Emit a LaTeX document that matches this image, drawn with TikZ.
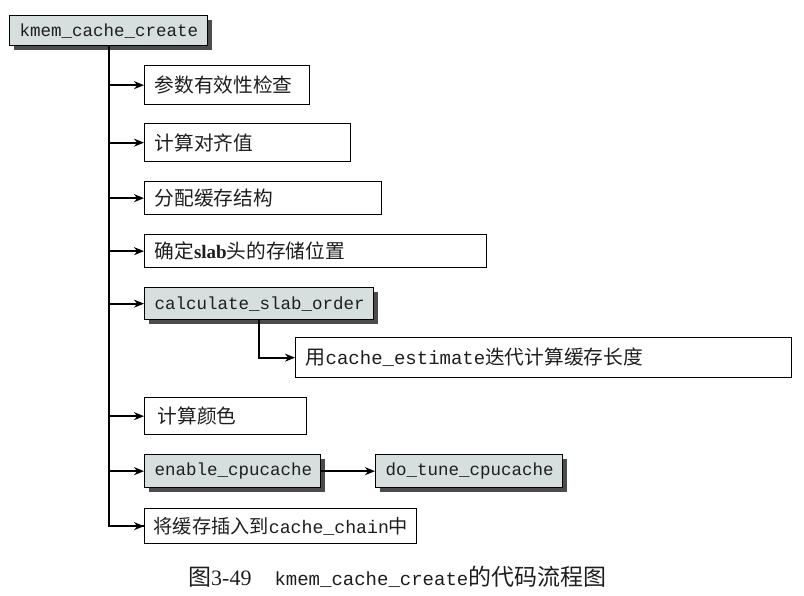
\documentclass[tikz,border=0pt]{standalone}
\usepackage{fontspec}
\setmainfont{Liberation Serif}
\setmonofont{Liberation Mono}
\newfontfamily\cjk{Noto Sans CJK SC}
\usetikzlibrary{arrows.meta,shadows}
\definecolor{boxfill}{RGB}{214,222,222}
\definecolor{txt}{RGB}{30,30,30}
\newcommand\mymono[1]{{\ttfamily\fontsize{17.5}{20}\selectfont #1}}
\newcommand\myzh[1]{{\cjk\fontsize{19.7}{22}\selectfont #1}}
\tikzset{
  box/.style={draw=black, line width=1.3pt, fill=white, anchor=north west,
    inner xsep=10pt, inner ysep=0pt, align=left, text=txt},
  gbox/.style={box, fill=boxfill,
    drop shadow={shadow xshift=4.5pt, shadow yshift=-4.5pt, fill=black!70, opacity=1}},
  arr/.style={line width=1.8pt, -{Stealth[length=10pt,width=8pt]}},
  trunk/.style={line width=1.8pt}
}
\begin{document}
\begin{tikzpicture}[x=1pt,y=-1pt]
\useasboundingbox (0,0) rectangle (804,595);
\node[gbox, minimum width=198pt, minimum height=30pt, text width=178pt] (k) at (9,15) {\mymono{kmem\_cache\_create}};
\node[box, minimum width=165pt, minimum height=39pt, text width=145pt] (b1) at (144,65) {\myzh{参数有效性检查}};
\node[box, minimum width=206pt, minimum height=38pt, text width=186pt] (b2) at (144,123) {\myzh{计算对齐值}};
\node[box, minimum width=237pt, minimum height=33pt, text width=217pt] (b3) at (144,181) {\myzh{分配缓存结构}};
\node[box, minimum width=342pt, minimum height=33pt, text width=322pt] (b4) at (144,234) {\myzh{确定}{\bfseries\fontsize{19}{22}\selectfont slab}\myzh{头的存储位置}};
\node[gbox, minimum width=229pt, minimum height=32pt, text width=209pt] (b5) at (144,287) {\mymono{calculate\_slab\_order}};
\node[box, minimum width=496pt, minimum height=40pt, text width=476pt] (b6) at (295,337) {{\cjk\fontsize{20}{22}\selectfont 用}{\ttfamily\fontsize{19}{22}\selectfont cache\_estimate}{\cjk\fontsize{19.7}{22}\selectfont 迭代计算缓存长度}};
\node[box, minimum width=162pt, minimum height=37pt, text width=142pt] (b7) at (144,397) {\hspace{3pt}\myzh{计算颜色}};
\node[gbox, minimum width=176pt, minimum height=33pt, text width=156pt] (b8) at (144,454) {\mymono{enable\_cpucache}};
\node[gbox, minimum width=187pt, minimum height=33pt, text width=167pt] (b9) at (375,454) {\mymono{do\_tune\_cpucache}};
\node[box, minimum width=272pt, minimum height=35pt, text width=254pt, inner xsep=9pt] (b10) at (144,508) {{\cjk\fontsize{19.2}{22}\selectfont 将缓存插入到}{\ttfamily\fontsize{18.2}{22}\selectfont cache\_chain}{\cjk\fontsize{19.2}{22}\selectfont 中}};
\draw[trunk] (k.south) |- (b10.west);
\foreach \n in {b1,b2,b3,b4,b5,b7,b8,b10}
  \draw[arr] (k.south |- \n.west) -- (\n.west);
\draw[arr] (b5.south) |- (b6.west);
\draw[arr] (b8.east) -- (b9.west);
\node[anchor=west, inner sep=0pt, text=txt] (cap) at (188,577)
  {{\cjk\fontsize{23}{24}\selectfont 图}{\fontsize{22}{24}\selectfont 3-49}\hspace{23pt}{\ttfamily\fontsize{19}{24}\selectfont kmem\_cache\_create}{\cjk\fontsize{23}{24}\selectfont 的代码流程图}};
\end{tikzpicture}
\end{document}
